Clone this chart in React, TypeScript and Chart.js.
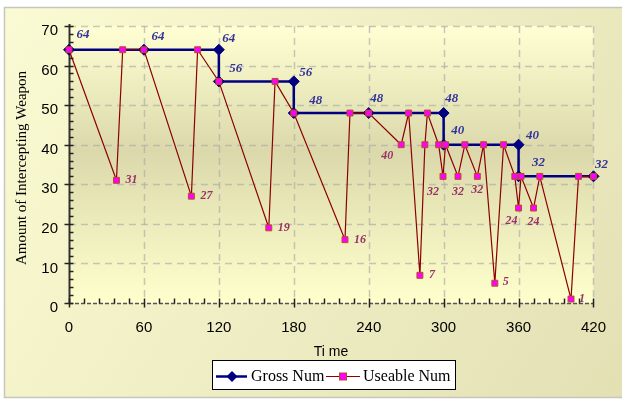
import React, { useEffect, useRef } from "react";
import { Chart, registerables } from "chart.js";

Chart.register(...registerables);

// ---- data ----
const grossTime = [0, 60, 120, 120, 180, 180, 240, 300, 300, 360, 360, 420];
const grossNum = [64, 64, 64, 56, 56, 48, 48, 48, 40, 40, 32, 32];

const useTime = [
  0, 38, 43, 60, 98, 103, 120, 160, 165, 180, 221, 225, 240, 266, 272, 281, 285, 287, 296, 299.5,
  301.5, 311.5, 317, 327, 332, 341, 348, 357, 360, 362, 372, 377, 402, 408, 420,
];
const useNum = [
  64, 31, 64, 64, 27, 64, 56, 19, 56, 48, 16, 48, 48, 40, 48, 7, 40, 48, 40, 32,
  40, 32, 40, 32, 40, 5, 40, 32, 24, 32, 24, 32, 1, 32, 32,
];
// indices of Useable points that carry a value label
const useLabelIdx = [1, 4, 7, 10, 13, 15, 19, 21, 23, 25, 28, 30, 32];

const xTickStep = 60;
const yTickStep = 10;
const seriesNames = ["Gross Num", "Useable Num"];
const xTitle = "Ti me";
const yTitle = "Amount of Intercepting Weapon";

// ---- label placement (style) ----
const grossLabelShift = [
  [14, -15], [14, -13], [10, -11], [17, -13], [12, -9], [22, -12],
  [8, -14], [8, -14], [14, -14], [14, -9], [20, -14], [8, -12],
];
const useLabelShift = [
  [15, 0], [15, 0], [15, 0], [15, 0], [-14, 11], [12, 0], [-10, 16],
  [0, 16], [0, 14], [11, -1], [-7, 13], [0, 14], [11, 0],
];

const NAVY = "#000080";
const MAROON = "#8B0000";
const PINK = "#FF00FF";
const PINK_EDGE = "#B4501E";

const decorPlugin = {
  id: "decor",
  beforeDraw(chart: any) {
    const { ctx, chartArea: a } = chart;
    ctx.save();
    ctx.fillStyle = "#ffffff";
    ctx.fillRect(0, 0, chart.width, chart.height);
    const g = ctx.createLinearGradient(4, 7, 620, 398);
    g.addColorStop(0, "#FBFBD3");
    g.addColorStop(1, "#E3E0B4");
    ctx.fillStyle = g;
    ctx.fillRect(4, 7, 620, 391);
    ctx.strokeStyle = "#C6C6BE";
    ctx.lineWidth = 1.5;
    ctx.strokeRect(4.5, 7.5, 620, 390);
    const pg = ctx.createLinearGradient(0, a.top, 0, a.bottom);
    pg.addColorStop(0, "#FFFFD3");
    pg.addColorStop(0.45, "#DBD9AB");
    pg.addColorStop(1, "#FFFFCD");
    ctx.fillStyle = pg;
    ctx.fillRect(a.left, a.top, a.right - a.left, a.bottom - a.top);
    ctx.restore();
  },
  beforeDatasetsDraw(chart: any) {
    const { ctx, chartArea: a, scales } = chart;
    const xs = scales.x;
    const ys = scales.y;
    ctx.save();
    // dashed grid
    ctx.strokeStyle = "rgba(170,170,168,0.65)";
    ctx.lineWidth = 1.5;
    ctx.setLineDash([7, 5]);
    for (let v = xTickStep; v <= xs.max; v += xTickStep) {
      const px = Math.round(xs.getPixelForValue(v)) + 0.5;
      ctx.beginPath();
      ctx.moveTo(px, a.top);
      ctx.lineTo(px, a.bottom);
      ctx.stroke();
    }
    for (let v = yTickStep; v <= ys.max; v += yTickStep) {
      const py = Math.round(ys.getPixelForValue(v)) + 0.5;
      ctx.beginPath();
      ctx.moveTo(a.left, py);
      ctx.lineTo(a.right, py);
      ctx.stroke();
    }
    // x axis line
    ctx.strokeStyle = "#555555";
    ctx.setLineDash([4, 2]);
    ctx.lineWidth = 1.5;
    const y0 = Math.round(ys.getPixelForValue(0)) + 0.5;
    ctx.beginPath();
    ctx.moveTo(a.left, y0);
    ctx.lineTo(a.right, y0);
    ctx.stroke();
    ctx.setLineDash([]);
    // y axis line
    const x0 = Math.round(xs.getPixelForValue(0)) + 0.5;
    ctx.strokeStyle = "#333333";
    ctx.lineWidth = 2;
    ctx.beginPath();
    ctx.moveTo(x0, a.top - 2);
    ctx.lineTo(x0, a.bottom);
    ctx.stroke();
    // y ticks
    ctx.strokeStyle = "#222222";
    ctx.lineWidth = 1.5;
    for (let v = 0; v <= ys.max; v += 2) {
      const py = Math.round(ys.getPixelForValue(v)) + 0.5;
      const major = v % yTickStep === 0;
      ctx.beginPath();
      ctx.moveTo(major ? x0 - 5 : x0, py);
      ctx.lineTo(x0 + 4, py);
      ctx.stroke();
    }
    // x ticks
    for (let v = 0; v <= xs.max; v += xTickStep / 5) {
      const px = Math.round(xs.getPixelForValue(v)) + 0.5;
      const major = v % xTickStep === 0;
      ctx.beginPath();
      ctx.moveTo(px, y0 - 5);
      ctx.lineTo(px, major ? y0 + 4 : y0);
      ctx.stroke();
    }
    ctx.restore();
  },
  afterDatasetsDraw(chart: any) {
    const { ctx } = chart;
    ctx.save();
    ctx.textAlign = "center";
    ctx.textBaseline = "middle";
    const gm = chart.getDatasetMeta(0);
    ctx.font = "italic bold 13px 'Liberation Serif'";
    ctx.fillStyle = "#33339A";
    gm.data.forEach((pt: any, i: number) => {
      const s = grossLabelShift[i] || [13, -13];
      ctx.fillText(String(grossNum[i]), pt.x + s[0], pt.y + s[1]);
    });
    const um = chart.getDatasetMeta(1);
    ctx.font = "italic bold 12px 'Liberation Serif'";
    ctx.fillStyle = "#993366";
    useLabelIdx.forEach((idx, k) => {
      const pt = um.data[idx];
      const s = useLabelShift[k] || [14, 0];
      ctx.fillText(String(useNum[idx]), pt.x + s[0], pt.y + s[1]);
    });
    ctx.restore();
  },
  afterDraw(chart: any) {
    const { ctx } = chart;
    ctx.save();
    // axis titles
    ctx.fillStyle = "#000000";
    ctx.textAlign = "center";
    ctx.textBaseline = "middle";
    ctx.font = "14px 'Liberation Sans'";
    ctx.fillText(xTitle, 331, 352);
    ctx.save();
    ctx.translate(22, 168);
    ctx.rotate(-Math.PI / 2);
    ctx.font = "15px 'Liberation Serif'";
    ctx.fillText(yTitle, 0, 0);
    ctx.restore();
    // legend
    ctx.fillStyle = "#ffffff";
    ctx.fillRect(212.5, 360.5, 243, 29);
    ctx.strokeStyle = "#000000";
    ctx.lineWidth = 1;
    ctx.strokeRect(212.5, 360.5, 243, 29);
    const ly = 376.5;
    ctx.strokeStyle = NAVY;
    ctx.lineWidth = 2.5;
    ctx.beginPath();
    ctx.moveTo(216, ly);
    ctx.lineTo(247, ly);
    ctx.stroke();
    ctx.fillStyle = NAVY;
    ctx.beginPath();
    ctx.moveTo(232, ly - 5.5);
    ctx.lineTo(237.5, ly);
    ctx.lineTo(232, ly + 5.5);
    ctx.lineTo(226.5, ly);
    ctx.closePath();
    ctx.fill();
    ctx.strokeStyle = MAROON;
    ctx.lineWidth = 1.2;
    ctx.beginPath();
    ctx.moveTo(326, ly);
    ctx.lineTo(360, ly);
    ctx.stroke();
    ctx.fillStyle = PINK;
    ctx.fillRect(339.5, ly - 3.5, 7, 7);
    ctx.strokeStyle = PINK_EDGE;
    ctx.lineWidth = 1;
    ctx.strokeRect(339.5, ly - 3.5, 7, 7);
    ctx.fillStyle = "#000000";
    ctx.textAlign = "left";
    ctx.font = "16px 'Liberation Serif'";
    ctx.fillText(seriesNames[0], 251, ly);
    ctx.fillText(seriesNames[1], 363, ly);
    ctx.restore();
  },
};

export default function App() {
  const ref = useRef<HTMLCanvasElement | null>(null);
  useEffect(() => {
    if (!ref.current) return;
    const chart = new Chart(ref.current, {
      type: "line",
      data: {
        datasets: [
          {
            label: seriesNames[0],
            data: grossTime.map((t, i) => ({ x: t, y: grossNum[i] })),
            borderColor: NAVY,
            backgroundColor: NAVY,
            borderWidth: 2.5,
            pointStyle: "rectRot",
            pointRadius: 5.5,
            pointBackgroundColor: NAVY,
            pointBorderColor: NAVY,
            pointBorderWidth: 1,
            tension: 0,
            clip: false,
            order: 2,
          },
          {
            label: seriesNames[1],
            data: useTime.map((t, i) => ({ x: t, y: useNum[i] })),
            borderColor: MAROON,
            backgroundColor: PINK,
            borderWidth: 1.2,
            pointStyle: "rect",
            pointRadius: 4.2,
            pointBackgroundColor: PINK,
            pointBorderColor: PINK_EDGE,
            pointBorderWidth: 1,
            tension: 0,
            clip: false,
            order: 1,
          },
        ],
      },
      options: {
        responsive: false,
        animation: false,
        devicePixelRatio: 1,
        layout: { padding: { left: 0, top: 26, right: 28, bottom: 0 } },
        plugins: { legend: { display: false }, tooltip: { enabled: false } },
        scales: {
          x: {
            type: "linear",
            min: 0,
            max: 420,
            ticks: {
              stepSize: xTickStep,
              padding: 16,
              color: "#000000",
              font: { family: "'Liberation Sans'", size: 15 },
            },
            grid: { display: false, drawTicks: false },
            border: { display: false },
            afterFit(s: any) {
              s.height = 98;
            },
          },
          y: {
            type: "linear",
            min: 0,
            max: 70,
            ticks: {
              stepSize: yTickStep,
              padding: 11,
              labelOffset: 5,
              color: "#000000",
              font: { family: "'Liberation Sans'", size: 15 },
            },
            grid: { display: false, drawTicks: false },
            border: { display: false },
            afterFit(s: any) {
              s.width = 69;
            },
          },
        },
      } as any,
      plugins: [decorPlugin],
    });
    return () => chart.destroy();
  }, []);
  return (
    <canvas
      ref={ref}
      width={622}
      height={401}
      style={{ position: "absolute", left: 0, top: 0 }}
    />
  );
}
